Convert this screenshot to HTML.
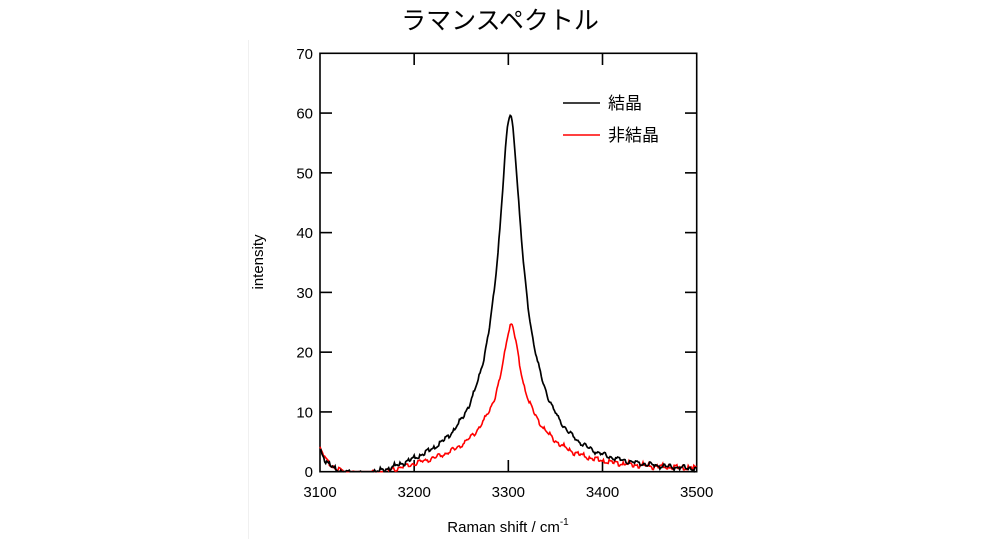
<!DOCTYPE html>
<html><head><meta charset="utf-8"><style>
html,body{margin:0;padding:0;background:#fff;}
svg{display:block;font-family:"Liberation Sans","Noto Sans CJK JP",sans-serif;}
</style></head><body>
<svg id="s" width="1000" height="539" viewBox="0 0 1000 539">
<line x1="248.5" y1="40" x2="248.5" y2="539" stroke="#f0f0f0" stroke-width="1"/>
<text x="500" y="29" font-size="25" text-anchor="middle" fill="#000">ラマンスペクトル</text>
<g id="ticks" stroke="#000" stroke-width="1.6" fill="none"></g>
<rect x="320" y="53.3" width="376.7" height="418.4" fill="none" stroke="#000" stroke-width="1.6"/>
<g id="lab" font-size="15" fill="#000"></g>
<path id="red" fill="none" stroke="#f00" stroke-width="1.6"/>
<path id="blk" fill="none" stroke="#000" stroke-width="1.7"/>
<line x1="563" y1="103" x2="600" y2="103" stroke="#000" stroke-width="1.6"/>
<text x="608" y="109" font-size="17">結晶</text>
<line x1="563" y1="135" x2="600" y2="135" stroke="#f00" stroke-width="1.6"/>
<text x="608" y="141" font-size="17">非結晶</text>
<text x="508" y="532" font-size="15" text-anchor="middle">Raman shift / cm<tspan dy="-7" font-size="10">-1</tspan></text>
<text transform="translate(263,262) rotate(-90)" font-size="15" text-anchor="middle">intensity</text>
</svg>
<script>
var X=function(v){return 320+(v-3100)*0.94167;},Y=function(v){return 471.7-v*5.977;};
var t=document.getElementById('ticks'),l=document.getElementById('lab'),h='',g='';
for(var i=0;i<=4;i++){var v=3100+i*100,x=X(v);
 if(i>0&&i<4){h+='<line x1="'+x+'" y1="471.7" x2="'+x+'" y2="460"/><line x1="'+x+'" y1="53.3" x2="'+x+'" y2="65"/>';}
 g+='<text x="'+x+'" y="497" text-anchor="middle">'+v+'</text>';}
for(var j=0;j<=7;j++){var y=Y(j*10);
 if(j>0&&j<7){h+='<line x1="320" y1="'+y+'" x2="332" y2="'+y+'"/><line x1="696.7" y1="'+y+'" x2="685" y2="'+y+'"/>';}
 g+='<text x="313" y="'+(y+5.5)+'" text-anchor="end">'+(j*10)+'</text>';}
t.innerHTML=h;l.innerHTML=g;
function bg(x){return 3.8*Math.exp(-(x-3100)/9)-1.3*Math.exp(-Math.pow((x-3150)/45,2));}
function L(d,a,g){return a*g*g/(d*d+g*g);}
function nz(x,s){var q=Math.floor(x/1.5)*1.5;return 0.25*Math.sin(q*0.9+s)+0.2*Math.sin(q*0.37+2*s)+0.15*Math.sin(q*2.1+s*3);}
function fb(x){var d=x-3302;return L(d,42,13)+L(d,18,40)+bg(x)-0.4+nz(x,0);}
function fr(x){var d=x-3303;return L(d,14,10)+L(d,10.5,40)+bg(x)+0.2+nz(x,1.3);}
function path(f,pk){var p='';for(var x=3100;x<=3500;x+=1){var v=Math.max(0,f(x));if(Math.abs(x-3302)<5)v=Math.min(v,pk);p+=(x==3100?'M':'L')+X(x).toFixed(1)+','+Y(v).toFixed(1);}return p;}
document.getElementById('blk').setAttribute('d',path(fb,60));
document.getElementById('red').setAttribute('d',path(fr,24.7));
</script>
</body></html>
